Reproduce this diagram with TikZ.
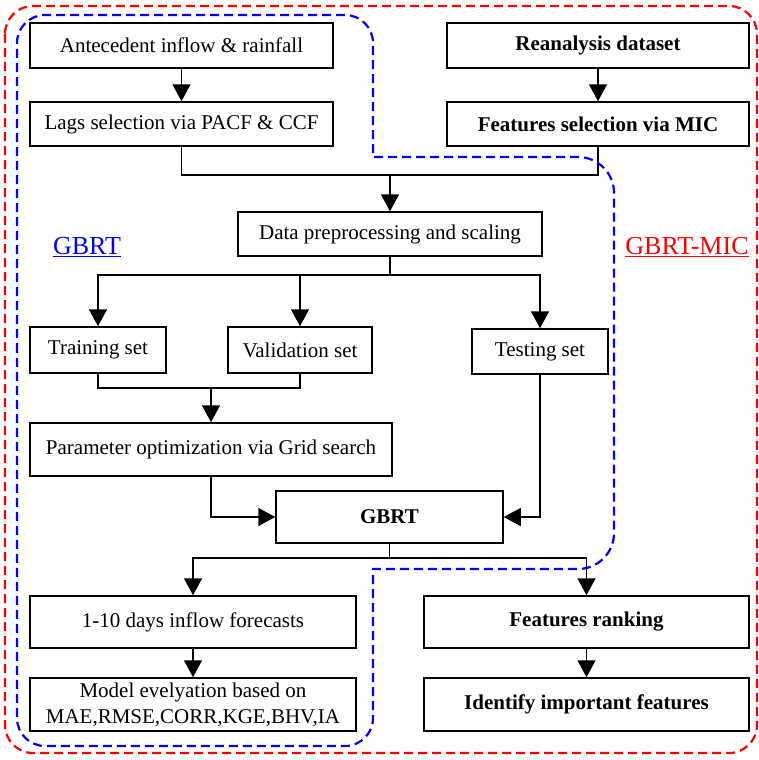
\documentclass[tikz,border=0pt]{standalone}
\usepackage{fontspec}
\setmainfont{Liberation Serif}
\usetikzlibrary{arrows.meta}

\begin{document}
\begin{tikzpicture}[x=1pt,y=-1pt,
  box/.style={draw,line width=1.5pt,inner sep=0pt,align=center,font=\fontsize{21}{26}\selectfont},
  conn/.style={line width=1.5pt},
  arr/.style={line width=1.5pt,-{Triangle[length=17pt,width=18pt]}},
  frame/.style={line width=2.2pt,dash pattern=on 9pt off 5pt}]
\useasboundingbox (0,0) rectangle (758,760);
\coordinate (jtop) at (390,175);
\coordinate (jsplit) at (390,275);
\coordinate (jmerge) at (211,388);
\coordinate (jout) at (389.5,558);
\node[box,minimum width=303pt,minimum height=45pt] (ante) at (181.5,45.5) {Antecedent inflow \& rainfall};
\node[box,minimum width=303pt,minimum height=44pt] (lags) at (181.5,124) {Lags selection via PACF \& CCF};
\node[box,minimum width=302pt,minimum height=45pt,font=\fontsize{21}{26}\selectfont\bfseries] (reana) at (598,45.5) {Reanalysis dataset};
\node[box,minimum width=302pt,minimum height=44pt,font=\fontsize{21}{26}\selectfont\bfseries] (featsel) at (598,124) {Features selection via MIC};
\node[box,minimum width=304pt,minimum height=44pt] (prep) at (390,234) {Data preprocessing and scaling};
\node[box,minimum width=136pt,minimum height=46pt] (train) at (98,350) {Training set};
\node[box,minimum width=144pt,minimum height=46pt] (valid) at (300,350) {Validation set};
\node[box,minimum width=136pt,minimum height=45pt] (test) at (540,351.5) {Testing set};
\node[box,minimum width=362pt,minimum height=53pt] (param) at (211,449.5) {Parameter optimization via Grid search};
\node[box,minimum width=227pt,minimum height=52pt,font=\fontsize{21}{26}\selectfont\bfseries] (gbrt) at (389.5,517) {GBRT};
\node[box,minimum width=326pt,minimum height=52pt] (fcst) at (193,622) {1-10 days inflow forecasts};
\node[box,minimum width=326pt,minimum height=53pt] (model) at (193,704.5) {Model evelyation based on\\MAE,RMSE,CORR,KGE,BHV,IA};
\node[box,minimum width=325pt,minimum height=52pt,font=\fontsize{21}{26}\selectfont\bfseries] (rank) at (586.5,622) {Features ranking};
\node[box,minimum width=325pt,minimum height=53pt,font=\fontsize{21}{26}\selectfont\bfseries] (ident) at (586.5,704.5) {Identify important features};
\node[text=blue,font=\fontsize{26}{30}\selectfont] (lblgbrt) at (87,247) {\underline{GBRT}};
\node[text=red,font=\fontsize{26}{30}\selectfont] (lblmic) at (687,247) {\underline{GBRT-MIC}};
\draw[arr] (ante) -- (lags);
\draw[arr] (reana) -- (featsel);
\draw[conn] (lags.south) |- (jtop);
\draw[conn] (featsel.south) |- (jtop);
\draw[arr] (jtop) -- (prep.north);
\draw[conn] (prep.south) -- (jsplit);
\draw[arr] (jsplit) -| (train.north);
\draw[arr] (jsplit) -| (valid.north);
\draw[arr] (jsplit) -| (test.north);
\draw[conn] (train.south) |- (jmerge) -| (valid.south);
\draw[arr] (jmerge) -- (param.north);
\draw[arr] (param.south) |- (gbrt.west);
\draw[arr] (test.south) |- (gbrt.east);
\draw[conn] (gbrt.south) -- (jout);
\draw[arr] (jout) -| (fcst.north);
\draw[arr] (jout) -| (rank.north);
\draw[arr] (fcst) -- (model);
\draw[arr] (rank) -- (ident);
\draw[frame,red,rounded corners=28pt] (5,6) rectangle (757,753);
\draw[frame,blue] (17,380) [rounded corners=28pt] -- (17,15) -- (373,15) [sharp corners] -- (373,157) [rounded corners=36pt] -- (614,157) -- (614,569) [sharp corners] -- (373,569) [rounded corners=28pt] -- (373,746) -- (17,746) -- cycle;
\end{tikzpicture}
\end{document}
